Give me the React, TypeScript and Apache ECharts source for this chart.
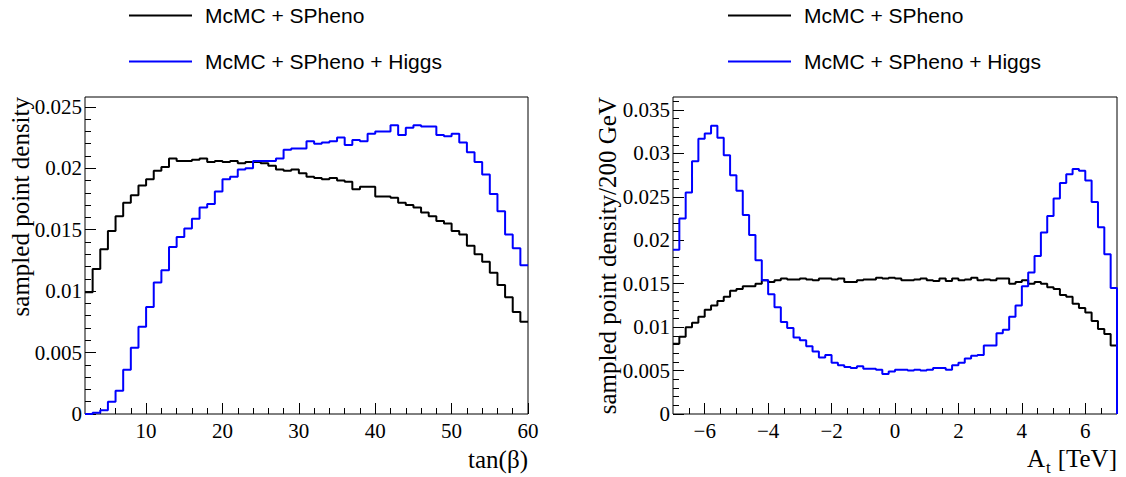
import React, { useEffect, useRef } from "react";
import * as echarts from "echarts";

const SERIES_NAMES = ["McMC + SPheno", "McMC + SPheno + Higgs"];

// tan(beta) histogram: bins of width 1 from 2 to 60
const TANB_START = 2;
const TANB_WIDTH = 1;
const tanbBase = [
  0.0099, 0.0118, 0.0134, 0.0149, 0.0161, 0.0172, 0.0178, 0.0186, 0.0191, 0.0198,
  0.0201, 0.0208, 0.0206, 0.0206, 0.0207, 0.0208, 0.0205, 0.0206, 0.0205, 0.0206,
  0.0204, 0.0205, 0.0205, 0.0204,
  0.0202, 0.0199, 0.0198, 0.0199, 0.0196, 0.0193, 0.0192, 0.0191, 0.0192, 0.019,
  0.0189, 0.0183, 0.0185, 0.0185, 0.0177, 0.0177, 0.0176, 0.0172, 0.017, 0.0168,
  0.0164, 0.0161, 0.0157, 0.0155, 0.0149, 0.0146, 0.0137, 0.013, 0.0124, 0.0115,
  0.0105, 0.0095, 0.0083, 0.0075,
];
const tanbHiggs = [
  0.0, 0.0001, 0.0003, 0.001, 0.0019, 0.0036, 0.0054, 0.0071, 0.0087, 0.0107,
  0.0117, 0.0136, 0.0144, 0.0151, 0.0159, 0.0168, 0.0171, 0.0181, 0.0191, 0.0193,
  0.0199, 0.02, 0.0206, 0.0206,
  0.0206, 0.0208, 0.0215, 0.0216, 0.0216, 0.0222, 0.022, 0.0221, 0.0222, 0.0225,
  0.0219, 0.0223, 0.0222, 0.0228, 0.023, 0.023, 0.0235, 0.0227, 0.0233, 0.0235,
  0.0234, 0.0234, 0.0227, 0.0226, 0.0228, 0.0221, 0.0213, 0.0205, 0.0195, 0.0179,
  0.0165, 0.0146, 0.0135, 0.0121,
];

// A_t histogram: bins of 200 GeV from -7 to 7 TeV
const AT_START = -7;
const AT_WIDTH = 0.2;
const atBase = [
  0.0081, 0.0089, 0.01, 0.0105, 0.0112, 0.012, 0.0125, 0.013, 0.0135, 0.0142,
  0.0144, 0.0147, 0.0147, 0.015, 0.0154, 0.0152, 0.0154, 0.0156, 0.0155, 0.0155,
  0.0156, 0.0155, 0.0154, 0.0156, 0.0156, 0.0155, 0.0156, 0.0152,
  0.0152, 0.0154, 0.0155, 0.0155, 0.0157, 0.0156, 0.0157, 0.0156, 0.0154, 0.0154,
  0.0155, 0.0156, 0.0154, 0.0153, 0.0156, 0.0153, 0.0156, 0.0154, 0.0155, 0.0157,
  0.0154, 0.0155, 0.0154, 0.0156, 0.0156, 0.015, 0.0152, 0.0154, 0.015, 0.0152,
  0.015, 0.0146, 0.0144, 0.0137, 0.0135, 0.0127, 0.0122, 0.0117, 0.0107, 0.0098,
  0.0092, 0.0079,
];
const atHiggs = [
  0.0189, 0.0225, 0.0255, 0.0291, 0.0317, 0.0323, 0.0332, 0.0318, 0.0298, 0.0275,
  0.0257, 0.0229, 0.0206, 0.0177, 0.0154, 0.0138, 0.0123, 0.0106, 0.0099, 0.0088,
  0.0085, 0.0078, 0.0072, 0.0065, 0.0068, 0.0059, 0.0056, 0.0054,
  0.0053, 0.0055, 0.0052, 0.0052, 0.0051, 0.0046, 0.0049, 0.0051, 0.0051, 0.005,
  0.0051, 0.005, 0.0051, 0.0053, 0.0053, 0.0051, 0.0056, 0.0059, 0.0064, 0.0067,
  0.0068, 0.0079, 0.0079, 0.0093, 0.0097, 0.0112, 0.0125, 0.0147, 0.0163, 0.0182,
  0.0209, 0.0228, 0.0248, 0.0266, 0.0276, 0.0282, 0.028, 0.0269, 0.0244, 0.0215,
  0.0184, 0.0145,
];

// Tick labels
const tanbTicks = [10, 20, 30, 40, 50, 60];
const tanbMinorTicks = [4, 6, 8, 12, 14, 16, 18, 22, 24, 26, 28, 32, 34, 36, 38, 42, 44, 46, 48, 52, 54, 56, 58];
const atTicks = [-6, -4, -2, 0, 2, 4, 6];
const atMinorTicks = [-6.5, -5.5, -5, -4.5, -3.5, -3, -2.5, -1.5, -1, -0.5, 0.5, 1, 1.5, 2.5, 3, 3.5, 4.5, 5, 5.5, 6.5];
const leftYTicks = [0, 0.005, 0.01, 0.015, 0.02, 0.025];
const leftYMinor = [0.001, 0.002, 0.003, 0.004, 0.006, 0.007, 0.008, 0.009, 0.011, 0.012, 0.013, 0.014, 0.016, 0.017, 0.018, 0.019, 0.021, 0.022, 0.023, 0.024];
const rightYTicks = [0, 0.005, 0.01, 0.015, 0.02, 0.025, 0.03, 0.035];
const rightYMinor = [0.001, 0.002, 0.003, 0.004, 0.006, 0.007, 0.008, 0.009, 0.011, 0.012, 0.013, 0.014, 0.016, 0.017, 0.018, 0.019, 0.021, 0.022, 0.023, 0.024, 0.026, 0.027, 0.028, 0.029, 0.031, 0.032, 0.033, 0.034, 0.036];

const SERIF = "Liberation Serif";
const SANS = "Liberation Sans";

function histPoints(start: number, width: number, values: number[], dropToZero: boolean) {
  const pts: number[][] = values.map((v, i) => [+(start + i * width).toFixed(4), v]);
  const end = +(start + values.length * width).toFixed(4);
  pts.push([end, values[values.length - 1]]);
  if (dropToZero) pts.push([end, 0]);
  return pts;
}

function valueAxes(kind: "x" | "y", gridIndex: number, min: number, max: number, majors: number[], minors: number[], fmt: (v: number) => string) {
  const position = kind === "x" ? "bottom" : "left";
  const main = {
    type: "value",
    gridIndex,
    min,
    max,
    position,
    axisLine: { show: false, onZero: false },
    splitLine: { show: false },
    axisTick: { show: true, inside: true, length: 11, customValues: majors, lineStyle: { color: "#000", width: 1 } },
    axisLabel: {
      show: true,
      customValues: majors,
      formatter: fmt,
      margin: kind === "x" ? 6 : 3,
      color: "#000",
      fontFamily: SERIF,
      fontSize: 21,
    },
  };
  const minor = {
    type: "value",
    gridIndex,
    min,
    max,
    position,
    axisLine: { show: false, onZero: false },
    splitLine: { show: false },
    axisTick: { show: true, inside: true, length: 6, customValues: minors, lineStyle: { color: "#000", width: 1 } },
    axisLabel: { show: false },
  };
  return [main, minor];
}

function stepSeries(name: string, color: string, xi: number, yi: number, data: number[][]) {
  return {
    type: "line",
    name,
    step: "end",
    xAxisIndex: xi,
    yAxisIndex: yi,
    data,
    showSymbol: false,
    symbol: "none",
    color,
    lineStyle: { color, width: 2 },
    clip: true,
  };
}

export default function App() {
  const ref = useRef<HTMLDivElement>(null);
  useEffect(() => {
    if (!ref.current) return;
    const chart = echarts.init(ref.current, undefined, { renderer: "svg" });
    const numFmt = (v: number) => String(v);
    const minusFmt = (v: number) => (v < 0 ? "\u2212" + String(-v) : String(v));

    const legendBase = {
      orient: "vertical",
      top: 0,
      itemWidth: 63,
      itemHeight: 2,
      itemGap: 25,
      icon: "rect",
      selectedMode: false,
      data: SERIES_NAMES,
      textStyle: { fontFamily: SANS, fontSize: 21, color: "#000", padding: [0, 0, 0, 8] },
    };

    const option = {
      animation: false,
      backgroundColor: "#fff",
      grid: [
        { left: 85, top: 97, width: 443, height: 317, show: true, borderColor: "#000", borderWidth: 1, backgroundColor: "transparent" },
        { left: 673, top: 97, width: 444, height: 317, show: true, borderColor: "#000", borderWidth: 1, backgroundColor: "transparent" },
      ],
      legend: [
        { ...legendBase, left: 124 },
        { ...legendBase, left: 723 },
      ],
      xAxis: [
        ...valueAxes("x", 0, 2, 60, tanbTicks, tanbMinorTicks, numFmt),
        ...valueAxes("x", 1, -7, 7, atTicks, atMinorTicks, minusFmt),
      ],
      yAxis: [
        ...valueAxes("y", 0, 0, 0.0258, leftYTicks, leftYMinor, numFmt),
        ...valueAxes("y", 1, 0, 0.0365, rightYTicks, rightYMinor, numFmt),
      ],
      series: [
        stepSeries(SERIES_NAMES[0], "#000000", 0, 0, histPoints(TANB_START, TANB_WIDTH, tanbBase, false)),
        stepSeries(SERIES_NAMES[1], "#0000ff", 0, 0, histPoints(TANB_START, TANB_WIDTH, tanbHiggs, false)),
        stepSeries(SERIES_NAMES[0], "#000000", 2, 2, histPoints(AT_START, AT_WIDTH, atBase, true)),
        stepSeries(SERIES_NAMES[1], "#0000ff", 2, 2, histPoints(AT_START, AT_WIDTH, atHiggs, true)),
      ],
      graphic: [
        {
          type: "text",
          x: 33,
          y: 97,
          rotation: Math.PI / 2,
          style: { text: "sampled point density", font: `25px "${SERIF}"`, fill: "#000", align: "right", verticalAlign: "bottom" },
        },
        {
          type: "text",
          x: 620,
          y: 97,
          rotation: Math.PI / 2,
          style: { text: "sampled point density/200 GeV", font: `25px "${SERIF}"`, fill: "#000", align: "right", verticalAlign: "bottom" },
        },
        {
          type: "text",
          x: 528,
          y: 459,
          style: { text: "tan(\u03b2)", font: `25px "${SERIF}"`, fill: "#000", align: "right", verticalAlign: "middle" },
        },
        {
          type: "text",
          x: 1117,
          y: 458,
          style: { text: "[TeV]", font: `25px "${SERIF}"`, fill: "#000", align: "right", verticalAlign: "middle" },
        },
        {
          type: "text",
          x: 1046,
          y: 467,
          style: { text: "t", font: `17px "${SERIF}"`, fill: "#000", align: "left", verticalAlign: "middle" },
        },
        {
          type: "text",
          x: 1045,
          y: 458,
          style: { text: "A", font: `25px "${SERIF}"`, fill: "#000", align: "right", verticalAlign: "middle" },
        },
      ],
    };
    chart.setOption(option as any);
    return () => chart.dispose();
  }, []);
  return (
    <div
      ref={ref}
      style={{ position: "absolute", left: 0, top: 0, width: 1126, height: 477, background: "#fff" }}
    />
  );
}
